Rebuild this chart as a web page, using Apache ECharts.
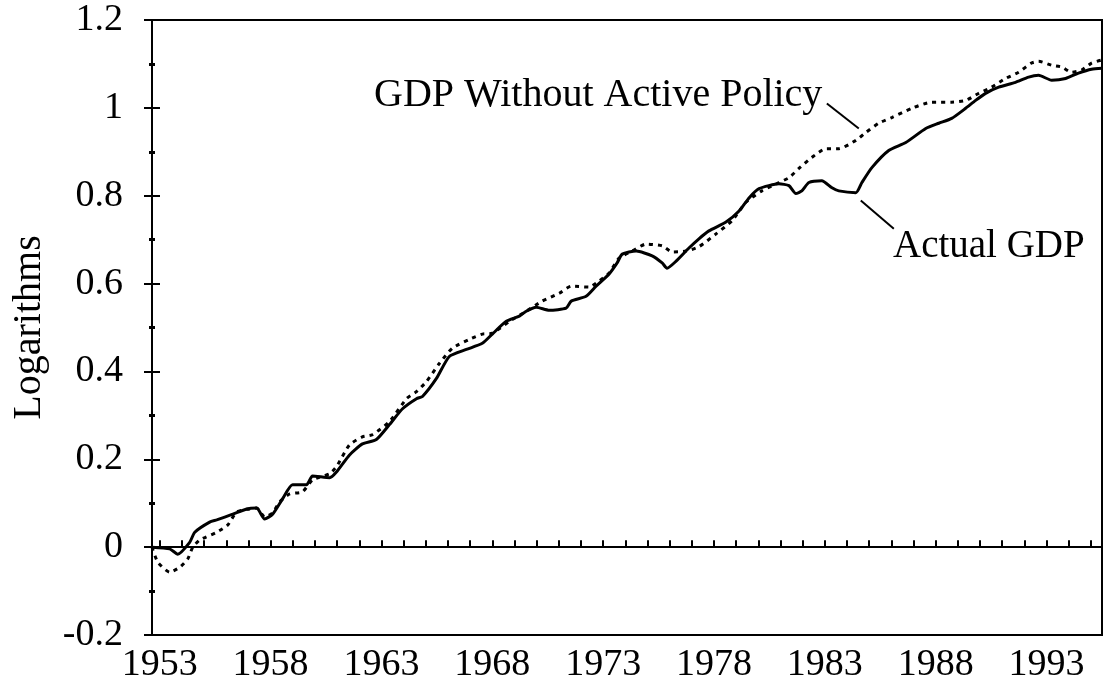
<!DOCTYPE html>
<html>
<head>
<meta charset="utf-8">
<script src="https://cdn.jsdelivr.net/npm/echarts@6/dist/echarts.min.js"></script>
<style>
    html, body { margin: 0; padding: 0; background: #fff; }
    #chart { width: 1105px; height: 692px; }
</style>
</head>
<body>
<div id="chart"></div>
<script>
// Actual GDP (solid)
const actualYears = [1952.65, 1953.45, 1953.81, 1954.35, 1954.58, 1955.25, 1955.57, 1956.29, 1956.92, 1957.37,
    1957.73, 1958.09, 1958.54, 1958.99, 1959.62, 1959.89, 1960.66, 1960.97, 1961.56, 1962.14,
    1962.77, 1963.36, 1963.95, 1964.58, 1964.85, 1965.48, 1966.06, 1966.83, 1967.55, 1968.0,
    1968.63, 1969.22, 1969.53, 1969.98, 1970.57, 1971.33, 1971.56, 1972.23, 1972.68, 1973.27,
    1973.63, 1973.86, 1974.49, 1975.21, 1975.66, 1975.88, 1976.29, 1976.87, 1977.32, 1977.77,
    1978.54, 1979.13, 1979.58, 1980.03, 1980.93, 1981.38, 1981.69, 1981.96, 1982.28, 1982.86,
    1983.32, 1983.63, 1984.40, 1984.67, 1985.12, 1985.88, 1986.65, 1987.55, 1988.14, 1988.72,
    1989.35, 1989.80, 1990.25, 1990.84, 1991.6, 1992.19, 1992.64, 1993.23, 1993.86, 1994.44,
    1995.03, 1995.5];
const actualValues = [0.0, -0.004, -0.016, 0.011, 0.034, 0.057, 0.062, 0.075, 0.087, 0.089,
    0.064, 0.075, 0.110, 0.142, 0.142, 0.162, 0.158, 0.171, 0.210, 0.235,
    0.245, 0.279, 0.315, 0.338, 0.343, 0.384, 0.434, 0.450, 0.464, 0.485,
    0.514, 0.526, 0.537, 0.546, 0.539, 0.544, 0.560, 0.571, 0.594, 0.622,
    0.647, 0.667, 0.674, 0.663, 0.647, 0.635, 0.651, 0.681, 0.702, 0.72,
    0.74, 0.765, 0.795, 0.816, 0.827, 0.823, 0.805, 0.811, 0.830, 0.834,
    0.818, 0.811, 0.807, 0.830, 0.864, 0.903, 0.921, 0.953, 0.965, 0.976,
    0.999, 1.017, 1.033, 1.047, 1.058, 1.07, 1.074, 1.063, 1.067, 1.079,
    1.088, 1.09];

// GDP without active policy (dotted)
const policyYears = [1952.65, 1952.91, 1953.45, 1953.9, 1954.26, 1954.49, 1954.8, 1955.57, 1956.06, 1956.47,
    1957.05, 1957.37, 1957.73, 1958.09, 1958.41, 1958.86, 1959.44, 1959.89, 1960.66, 1960.97,
    1961.56, 1962.14, 1962.59, 1963.36, 1964.13, 1964.58, 1965.03, 1965.61, 1966.2, 1966.96,
    1967.55, 1968.0, 1968.77, 1969.53, 1970.25, 1971.02, 1971.56, 1972.37, 1972.82, 1973.27,
    1973.72, 1974.31, 1974.94, 1975.66, 1976.11, 1976.74, 1977.32, 1978.09, 1978.81, 1979.44,
    1980.16, 1980.93, 1981.38, 1981.83, 1982.41, 1983.05, 1983.63, 1984.40, 1984.85, 1985.43,
    1986.02, 1986.92, 1987.82, 1988.72, 1989.35, 1989.94, 1990.52, 1991.15, 1991.74, 1992.32,
    1992.64, 1993.23, 1993.68, 1994.13, 1994.58, 1995.03, 1995.5];
const policyValues = [0.0, -0.034, -0.057, -0.046, -0.027, 0.0, 0.016, 0.034, 0.05, 0.080,
    0.087, 0.089, 0.069, 0.078, 0.103, 0.121, 0.126, 0.153, 0.167, 0.183,
    0.233, 0.251, 0.256, 0.286, 0.338, 0.354, 0.377, 0.418, 0.453, 0.473,
    0.485, 0.487, 0.514, 0.537, 0.560, 0.578, 0.594, 0.592, 0.606, 0.624,
    0.658, 0.674, 0.690, 0.686, 0.672, 0.674, 0.684, 0.713, 0.743, 0.785,
    0.811, 0.830, 0.841, 0.862, 0.887, 0.907, 0.907, 0.926, 0.944, 0.965,
    0.978, 0.999, 1.013, 1.013, 1.017, 1.033, 1.047, 1.067, 1.081, 1.102,
    1.106, 1.097, 1.093, 1.081, 1.086, 1.102, 1.109];

const yTicks = [-0.2, 1.2, 0.2];       // min, max, step
const xRange = [1952.65, 1995.5];
const firstLabelYear = 1953;

const zip = (xs, ys) => xs.map((x, i) => [x, ys[i]]);

const serif = '"Liberation Serif", "Times New Roman", serif';

const chart = echarts.init(document.getElementById('chart'));

const baseX = {
    type: 'value',
    min: xRange[0],
    max: xRange[1],
    splitNumber: 43,
    minInterval: 1,
    maxInterval: 1,
    splitLine: { show: false },
    axisLine: { lineStyle: { color: '#000', width: 2 } },
};

const baseY = {
    type: 'value',
    min: yTicks[0],
    max: yTicks[1],
    interval: yTicks[2],
    position: 'left',
    splitLine: { show: false },
    minorSplitLine: { show: false },
    axisLine: { lineStyle: { color: '#000', width: 2 } },
};

const option = {
    animation: false,
    backgroundColor: '#fff',
    grid: {
        left: 152, right: 2, top: 20, bottom: 57,
        show: true, borderColor: '#000', borderWidth: 2
    },
    xAxis: [
        Object.assign({}, baseX, {
            axisTick: { inside: true, length: 7, lineStyle: { color: '#000', width: 2 } },
            axisLabel: {
                margin: 11,
                color: '#000',
                fontFamily: serif,
                fontSize: 38,
                formatter: v => (Math.abs(v - Math.round(v)) < 1e-6 && (Math.round(v) - firstLabelYear) % 5 === 0) ? String(Math.round(v)) : ''
            }
        }),
        Object.assign({}, baseX, {
            axisLine: { show: false },
            axisTick: { inside: false, length: 7, lineStyle: { color: '#000', width: 2 } },
            axisLabel: { show: false }
        })
    ],
    yAxis: [
        Object.assign({}, baseY, {
            name: 'Logarithms',
            nameLocation: 'middle',
            nameGap: 103,
            nameTextStyle: { color: '#000', fontFamily: serif, fontSize: 40 },
            axisTick: { inside: true, length: 8, lineStyle: { color: '#000', width: 2 } },
            minorTick: { show: true, splitNumber: 2, length: 3, lineStyle: { color: '#000', width: 3 } },
            axisLabel: { margin: 29, color: '#000', fontFamily: serif, fontSize: 38 }
        }),
        Object.assign({}, baseY, {
            axisLine: { show: false },
            axisTick: { inside: false, length: 8, lineStyle: { color: '#000', width: 2 } },
            minorTick: { show: true, splitNumber: 2, length: 3, lineStyle: { color: '#000', width: 3 } },
            axisLabel: { show: false }
        })
    ],
    series: [
        {
            name: 'Actual GDP',
            type: 'line',
            data: zip(actualYears, actualValues),
            showSymbol: false,
            smooth: 0.2,
            lineStyle: { color: '#000', width: 3 },
            markLine: {
                silent: true,
                symbol: 'none',
                label: { show: false },
                lineStyle: { color: '#000', width: 2, type: 'solid' },
                data: [
                    { yAxis: 0 },
                    [{ coord: [1983.09, 1.010] }, { coord: [1984.53, 0.953] }],
                    [{ coord: [1984.62, 0.789] }, { coord: [1986.11, 0.725] }]
                ]
            }
        },
        {
            name: 'GDP Without Active Policy',
            type: 'line',
            data: zip(policyYears, policyValues),
            showSymbol: false,
            smooth: 0.2,
            lineStyle: { color: '#000', width: 3, type: [4, 5] }
        }
    ],
    graphic: [
        {
            type: 'text', left: 374, top: 75,
            style: { text: 'GDP Without Active Policy', font: '40px ' + serif, fill: '#000' }
        },
        {
            type: 'text', left: 893, top: 227,
            style: { text: 'Actual GDP', font: '39px ' + serif, fill: '#000' }
        }
    ]
};

chart.setOption(option);
</script>
</body>
</html>
